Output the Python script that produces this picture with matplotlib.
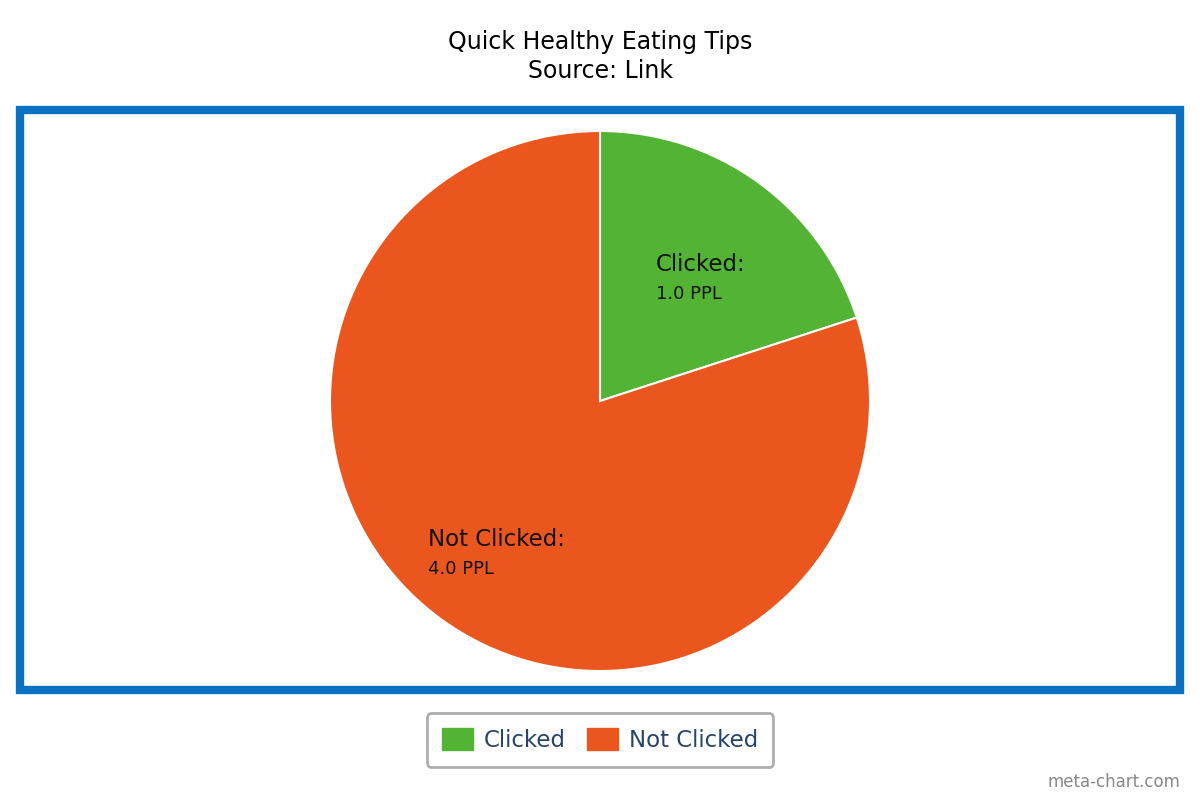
import numpy as np
import matplotlib
matplotlib.use("Agg")
import matplotlib.pyplot as plt
from matplotlib.patches import Rectangle, Patch

plt.rcParams['font.family'] = ['DejaVu Sans']

# data
categories = ['Clicked', 'Not Clicked']
values = [1.0, 4.0]
unit = 'PPL'
colors = ['#52b334', '#eb561e']

fig = plt.figure(figsize=(12, 8), dpi=100)

# title
fig.text(0.5, 1 - 42 / 800, 'Quick Healthy Eating Tips', ha='center', va='center', fontsize=17)
fig.text(0.5, 1 - 71 / 800, 'Source: Link', ha='center', va='center', fontsize=17)

# blue frame around plot area
fig.patches.append(Rectangle((20 / 1200, 1 - 690 / 800), 1160 / 1200, 580 / 800,
                             transform=fig.transFigure, fill=False,
                             edgecolor='#0a70c2', linewidth=6, zorder=0))

ax = fig.add_axes([330 / 1200, (399 - 270) / 800, 540 / 1200, 540 / 800])
wedges, _ = ax.pie(values, colors=colors, startangle=90, counterclock=False,
                   wedgeprops=dict(edgecolor='white', linewidth=1.5))
ax.set_xlim(-1, 1)
ax.set_ylim(-1, 1)
ax.set_aspect('equal')
ax.axis('off')

# labels inside each slice: two lines, left aligned
label_dist = [0.6, 0.66]
label_shift = [-0.145, -0.25]
for w, cat, v, d, s in zip(wedges, categories, values, label_dist, label_shift):
    mid = np.deg2rad((w.theta1 + w.theta2) / 2)
    x = d * np.cos(mid) + s
    y = d * np.sin(mid) - 0.03
    ax.text(x, y + 0.05, cat + ':', ha='left', va='center', fontsize=16.5, color='#111111')
    ax.text(x, y - 0.058, '%.1f %s' % (v, unit), ha='left', va='center', fontsize=13, color='#111111')

# legend
handles = [Patch(facecolor=c, edgecolor=c, label=l) for c, l in zip(colors, categories)]
leg = fig.legend(handles=handles, loc='center', bbox_to_anchor=(0.5, 60 / 800), ncol=2,
                 fontsize=16.5, frameon=True, fancybox=True, handlelength=1.35, handleheight=1.1,
                 handletextpad=0.5, columnspacing=0.9, borderpad=0.65)
leg.get_frame().set_edgecolor('#999999')
leg.get_frame().set_linewidth(2)
for t in leg.get_texts():
    t.set_color('#27456a')

# watermark
fig.text(1180 / 1200, 1 - 782 / 800, 'meta-chart.com', ha='right', va='center',
         fontsize=12, color='#888888')

fig.savefig('out.png', dpi=100)
